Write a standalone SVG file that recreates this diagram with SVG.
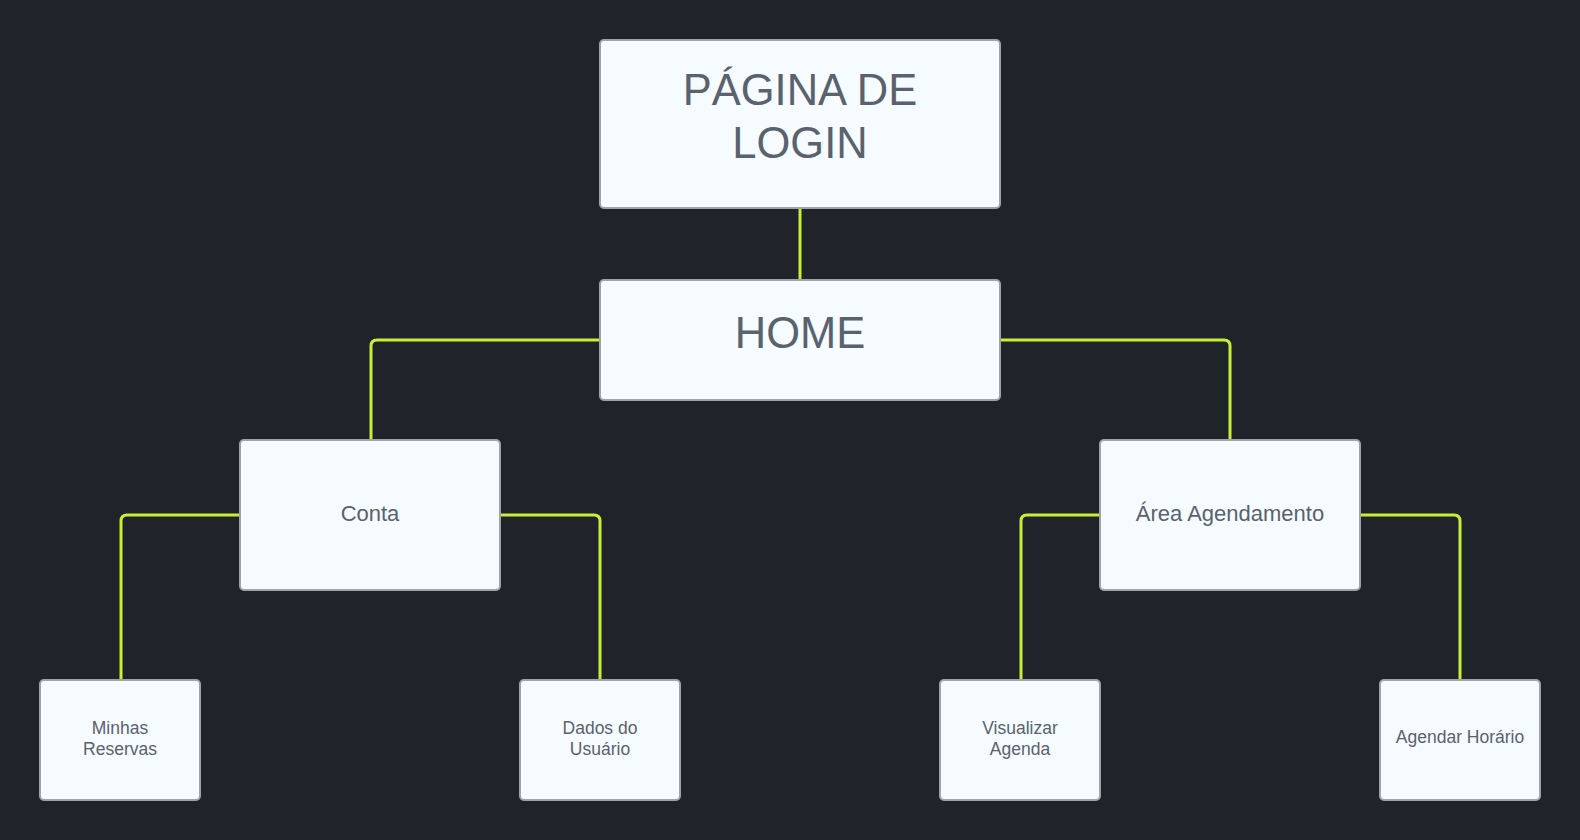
<svg xmlns="http://www.w3.org/2000/svg" width="1580" height="840" viewBox="0 0 1580 840">
<style>
.bg{fill:#20242a}
.box{fill:#f5fbfe;stroke:#9ea3a8;stroke-width:2}
.t{font-family:"Liberation Sans",Arial,sans-serif;fill:#5a626d;text-anchor:middle}
.l1{font-size:43.5px}
.l2{font-size:22px}
.l3{font-size:17.5px}
.c{fill:none;stroke:#c6ef36;stroke-width:3;stroke-linejoin:round;stroke-linecap:butt}
</style>
<rect class="bg" x="0" y="0" width="1580" height="840"/>
<g id="connectors">
<path class="c" d="M800 208 V280"/>
<path class="c" d="M600 340 H377 Q371 340 371 346 V440"/>
<path class="c" d="M1000 340 H1224 Q1230 340 1230 346 V440"/>
<path class="c" d="M240 515 H127 Q121 515 121 521 V680"/>
<path class="c" d="M500 515 H594 Q600 515 600 521 V680"/>
<path class="c" d="M1100 515 H1027 Q1021 515 1021 521 V680"/>
<path class="c" d="M1360 515 H1454 Q1460 515 1460 521 V680"/>
</g>
<g id="login">
<rect class="box" x="600" y="40" width="400" height="168" rx="4"/>
<text class="t l1" x="800" y="105">PÁGINA DE</text>
<text class="t l1" x="800" y="158">LOGIN</text>
</g>
<g id="home">
<rect class="box" x="600" y="280" width="400" height="120" rx="4"/>
<text class="t l1" x="800" y="348">HOME</text>
</g>
<g id="conta">
<rect class="box" x="240" y="440" width="260" height="150" rx="4"/>
<text class="t l2" x="370" y="521">Conta</text>
</g>
<g id="area">
<rect class="box" x="1100" y="440" width="260" height="150" rx="4"/>
<text class="t l2" x="1230" y="521">Área Agendamento</text>
</g>
<g id="minhas">
<rect class="box" x="40" y="680" width="160" height="120" rx="4"/>
<text class="t l3" x="120" y="734">Minhas</text>
<text class="t l3" x="120" y="755">Reservas</text>
</g>
<g id="dados">
<rect class="box" x="520" y="680" width="160" height="120" rx="4"/>
<text class="t l3" x="600" y="734">Dados do</text>
<text class="t l3" x="600" y="755">Usuário</text>
</g>
<g id="visualizar">
<rect class="box" x="940" y="680" width="160" height="120" rx="4"/>
<text class="t l3" x="1020" y="734">Visualizar</text>
<text class="t l3" x="1020" y="755">Agenda</text>
</g>
<g id="agendar">
<rect class="box" x="1380" y="680" width="160" height="120" rx="4"/>
<text class="t l3" x="1460" y="743">Agendar Horário</text>
</g>
</svg>
